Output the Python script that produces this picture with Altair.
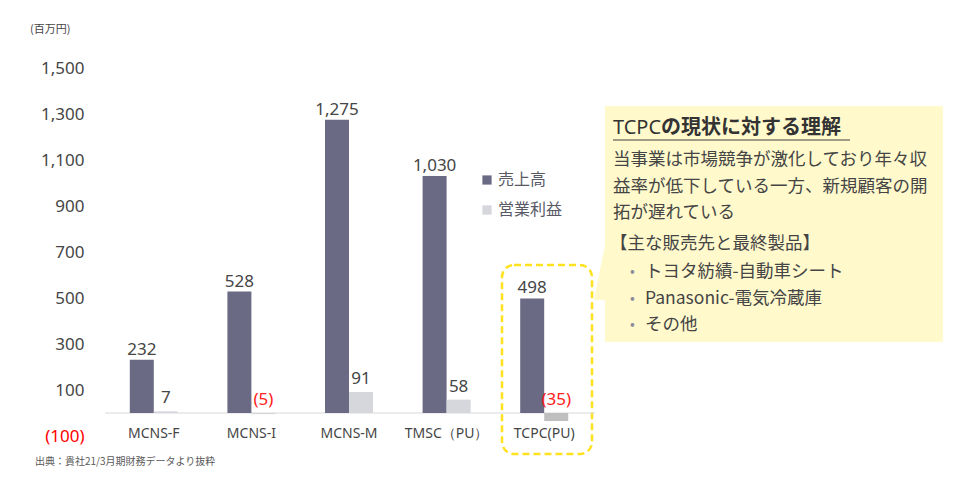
import altair as alt
import pandas as pd

# ---- data ----
companies = ["MCNS-F", "MCNS-I", "MCNS-M", "TMSC（PU）", "TCPC(PU)"]
sales = [232, 528, 1275, 1030, 498]
profit = [7, -5, 91, 58, -35]
series = ["売上高", "営業利益"]
y_ticks = [-100, 100, 300, 500, 700, 900, 1100, 1300, 1500]

box_title_a = "TCPC"
box_title_b = "の現状に対する理解"
box_lines = ["当事業は市場競争が激化しており年々収",
             "益率が低下している一方、新規顧客の開",
             "拓が遅れている"]
box_sub = "【主な販売先と最終製品】"
box_bullets = ["トヨタ紡績-自動車シート", "Panasonic-電気冷蔵庫", "その他"]
unit_label = "(百万円)"
source_label = "出典：貴社21/3月期財務データより抜粋"

# ---- tables ----
rows = []
for c, s, p in zip(companies, sales, profit):
    for name, v in ((series[0], s), (series[1], p)):
        rows.append({
            "company": c, "series": name, "value": v,
            "label_y": max(v, 0),
            "label": f"({abs(v):,})" if v < 0 else f"{v:,}",
            "neg": v < 0,
        })
df = pd.DataFrame(rows)
cat_df = pd.DataFrame({"company": companies, "pos": [-100] * len(companies)})
one = pd.DataFrame({"k": [0]})

JP = "Noto Sans CJK JP"
NUM = "Noto Sans"
W, H = 488, 368
TXT = "#454545"

yscale = alt.Scale(domain=[-100, 1500], nice=False)
xs = alt.X("company:N", sort=companies, axis=None,
           scale=alt.Scale(paddingInner=0.508, paddingOuter=0.254))
xo = alt.XOffset("series:N", sort=series,
                 scale=alt.Scale(domain=series, paddingInner=0, paddingOuter=0))
ys = alt.Y("value:Q", scale=yscale,
           axis=alt.Axis(values=y_ticks, grid=False, domain=False, ticks=False,
                         title=None, labelPadding=21, labelFontSize=17,
                         labelFont=NUM,
                         labelExpr="datum.value < 0 ? '(' + format(-datum.value, ',') + ')' : format(datum.value, ',')",
                         labelColor={"condition": {"test": "datum.value < 0", "value": "#FF0000"},
                                     "value": TXT}))

bars = alt.Chart(df).mark_bar(size=24).encode(
    x=xs, xOffset=xo, y=ys,
    color=alt.condition(
        "datum.series == '営業利益' && datum.value < -10",
        alt.value("#BFBFBF"),
        alt.Color("series:N", sort=series,
                  scale=alt.Scale(domain=series, range=["#6B6A84", "#D6D6DD"]),
                  legend=alt.Legend(title=None, orient="none", legendX=374, legendY=104,
                                    symbolType="square", symbolSize=85,
                                    symbolStrokeWidth=0, labelFontSize=16,
                                    labelFont=JP, labelColor="#595966",
                                    labelOffset=3, rowPadding=14, padding=0)),
    ),
)

zero_rule = alt.Chart(one).mark_rule(color="#D9D9D9", strokeWidth=1).encode(
    y=alt.datum(0, type="quantitative", scale=yscale),
    x=alt.value(0), x2=alt.value(W + 2),
)

def value_labels(name, dy):
    return alt.Chart(df).transform_filter(alt.datum.series == name).mark_text(
        font=NUM, fontSize=17, baseline="alphabetic", dy=dy).encode(
        x=xs, xOffset=xo,
        y=alt.Y("label_y:Q", scale=yscale),
        text="label:N",
        color=alt.condition("datum.neg", alt.value("#FF2020"), alt.value(TXT)),
    )

cats = alt.Chart(cat_df).mark_text(font=NUM, fontSize=14, color=TXT,
                                   baseline="middle", dy=-2).encode(
    x=alt.X("company:N", sort=companies, axis=None,
            scale=alt.Scale(paddingInner=0.508, paddingOuter=0.254)),
    y=alt.Y("pos:Q", scale=yscale),
    text="company:N",
)

def txt(s, x, y, size=17.5, weight="normal", color=TXT, font=JP, align="left"):
    return alt.Chart(one).mark_text(text=s, font=font, fontSize=size, fontWeight=weight,
                                    color=color, align=align, baseline="middle").encode(
        x=alt.value(x), y=alt.value(y))

# dashed highlight box
dash_box = alt.Chart(one).mark_rect(fill=None, stroke="#FFE21F", strokeWidth=2.5,
                                    strokeDash=[7, 4], cornerRadius=12).encode(
    x=alt.value(397), x2=alt.value(487), y=alt.value(197), y2=alt.value(386))

# callout box
note_box = alt.Chart(one).mark_rect(fill="#FFF9CC").encode(
    x=alt.value(500), x2=alt.value(838), y=alt.value(38), y2=alt.value(274))
wedge = alt.Chart(one).mark_point(
    shape="M 0.2 -1 L 0.2 1 L -0.2 1 Z", filled=True, fill="#FFF9CC",
    opacity=1, strokeWidth=0, size=4900).encode(x=alt.value(496), y=alt.value(197))
underline = alt.Chart(one).mark_rule(color="#404040", strokeWidth=1.2).encode(
    x=alt.value(508), x2=alt.value(745), y=alt.value(72))

layers = [note_box, wedge, dash_box, zero_rule, bars,
          value_labels(series[0], -5), value_labels(series[1], -8), cats,
          underline,
          txt(box_title_a, 508, 60, size=20, color="#333333", font=NUM),
          txt(box_title_b, 556, 60, size=20, weight="bold", color="#333333"),
          txt(unit_label, -75, -38, size=11),
          txt(source_label, -70, 394, size=10, color="#595959")]
for i, s in enumerate(box_lines):
    layers.append(txt(s, 508, 92 + i * 26.5))
layers.append(txt(box_sub, 505, 176))
for i, s in enumerate(box_bullets):
    layers.append(txt("•", 525, 204 + i * 26.5, size=14, color="#8A8A9A"))
    layers.append(txt(s, 540, 204 + i * 26.5))

chart = alt.layer(*layers).properties(
    width=W, height=H,
    background="white",
    autosize=alt.AutoSizeParams(type="none"),
    padding={"left": 97, "top": 60, "right": 355, "bottom": 34},
).configure_view(stroke=None)

chart.save("out.html", embed_options={"renderer": "svg", "actions": False})
